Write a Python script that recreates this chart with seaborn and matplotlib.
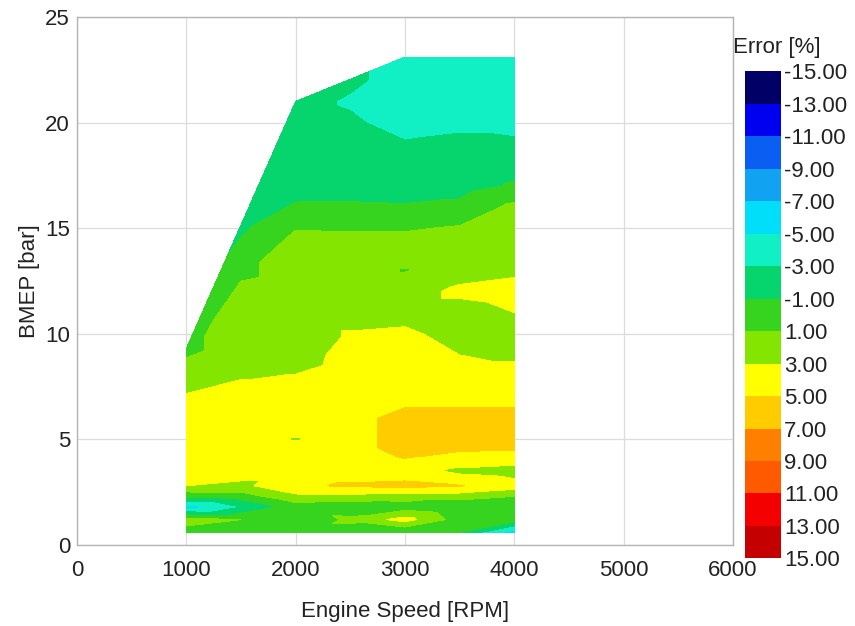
import numpy as np
import matplotlib
matplotlib.use("Agg")
import matplotlib.pyplot as plt
from matplotlib.colors import ListedColormap, BoundaryNorm
import seaborn as sns

# engine map measurement grid
speed_rpm = [1000, 1500, 2000, 2500, 3000, 3500, 4000]
full_load_bmep = [9.3, 15.15, 21.0, 22.05, 23.1, 23.1, 23.1]
bmep_rows = [0.6, 1.2, 1.8, 2.3, 2.8, 3.5, 4.2, 5, 6, 7, 8, 9, 10, 11, 12, 13,
             14, 15, 16, 17, 18, 19, 20, 21, 22]

# error [%] per speed, bottom to top (last value = full load point)
err_1000 = [0, 2, -6, -0.5, 3, 4, 4, 4, 4, 3.2, 2, 0.5]
err_1500 = [0, 1, -3, 0, 2.5, 4, 4, 4, 4, 4, 2.8, 2, 2, 2, 1.5, 0.5, -0.5, -1.5]
err_2000 = [0, -1, 0, 2.5, 4.6, 4, 4, 2.9, 4, 4, 3.1, 2, 2, 2, 2, 2, 2, 0.9,
            -0.7, -2, -2, -2, -2, -2.2]
err_2500 = [0, 1.5, -0.5, 2.5, 5.3, 4, 4, 4, 4, 4, 4, 3.8, 3.2, 2, 2, 2, 2,
            0.8, -0.7, -1.8, -2, -2, -2.6, -3.3, -2.5]
err_3000 = [-1, 3.8, 0, 2, 5.5, 4, 5.2, 6, 6, 4, 4, 4, 3.5, 2, 2, 0.9, 2, 0.8,
            -0.8, -2, -2, -2.8, -4, -4, -4, -4]
err_3500 = [-1, 0, -1, 2, 5.1, 2.5, 4.6, 6, 6, 4, 4, 3, 2, 2, 3.5, 2, 2, 1.2,
            -0.5, -1.8, -2, -2.5, -3.5, -4, -4, -4]
err_4000 = [-6, 0, -1, 1, 4, 2, 4.5, 6, 6, 4, 4, 2.5, 2, 3, 4, 2.5, 2, 2, 1.5,
            -0.8, -1.8, -2.5, -4, -4, -4, -4]

err_levels = list(range(-15, 17, 2))
err_colors = ["#000066", "#0000f0", "#0a5ef2", "#12a2f2", "#00defa", "#10f0c4",
              "#06d46c", "#36d41e", "#84e600", "#ffff00", "#ffcc00", "#ff8000",
              "#ff5a00", "#f50000", "#c40000"]

# collect the points
xs, ys, zs = [], [], []
all_err = [err_1000, err_1500, err_2000, err_2500, err_3000, err_3500, err_4000]
for spd, top, errs in zip(speed_rpm, full_load_bmep, all_err):
    rows = [r for r in bmep_rows if r < top - 0.3] + [top]
    for r, e in zip(rows, errs):
        xs.append(spd)
        ys.append(r)
        zs.append(e)

sns.set_theme(style="whitegrid")
plt.rcParams["font.family"] = ["Liberation Sans", "DejaVu Sans"]

fig = plt.figure(figsize=(8.55, 6.26), dpi=100)
ax = fig.add_axes([0.0901, 0.1294, 0.767, 0.8435])

cmap = ListedColormap(err_colors)
norm = BoundaryNorm(err_levels, cmap.N)
cs = ax.tricontourf(xs, ys, zs, levels=err_levels, cmap=cmap, norm=norm)

ax.set_xlim(0, 6000)
ax.set_ylim(0, 25)
ax.set_xticks(range(0, 7000, 1000))
ax.set_yticks(range(0, 30, 5))
ax.grid(True, color="#dcdcdc", linewidth=0.9)
ax.set_axisbelow(True)
for sp in ax.spines.values():
    sp.set_color("#b4b4b4")
    sp.set_linewidth(1.0)
ax.tick_params(axis="x", length=0, pad=11, labelsize=16, labelcolor="#222222")
ax.tick_params(axis="y", length=0, pad=5, labelsize=16, labelcolor="#222222")
ax.set_xlabel("Engine Speed [RPM]", fontsize=16, color="#222222", labelpad=14)
ax.set_ylabel("BMEP [bar]", fontsize=16, color="#222222", labelpad=4)

# colorbar
cax = fig.add_axes([0.871, 0.108, 0.043, 0.778])
cbar = fig.colorbar(cs, cax=cax, ticks=err_levels, format="%.2f")
cax.invert_yaxis()
cbar.outline.set_visible(False)
cax.tick_params(length=0, pad=2, labelsize=16, labelcolor="#222222")
fig.text(0.908, 1 - 48 / 626, "Error [%]", fontsize=16, color="#222222",
         ha="center", va="center")

fig.savefig("out.png", dpi=100)
